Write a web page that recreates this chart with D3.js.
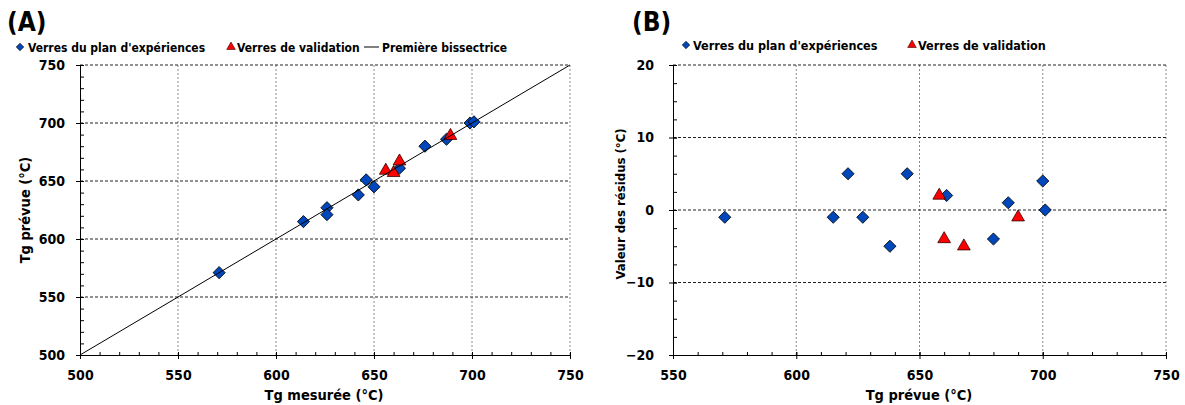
<!DOCTYPE html>
<html>
<head>
<meta charset="utf-8">
<script src="https://cdn.jsdelivr.net/npm/d3@7"></script>
<style>
body { margin: 0; background: #fff; }
text { font-family: "DejaVu Sans Condensed", "DejaVu Sans", sans-serif; font-weight: bold; fill: #000; }
</style>
</head>
<body>
<script>
// panel A : Tg mesurée vs Tg prévue
blueMeasured  = [571, 614, 626, 626, 642, 646, 650, 663, 676, 687, 699, 701]
bluePredicted = [571, 615, 627, 621, 638, 651, 645, 661, 680, 686, 700, 701]
redMeasured   = [656, 660, 663, 689]
redPredicted  = [659, 657, 667, 689]
bisector      = [500, 750]

// panel B : résidus vs Tg prévue
bluePredB = [571, 615, 621, 627, 638, 645, 661, 680, 686, 700, 701]
blueResB  = [-1, -1, 5, -1, -5, 5, 2, -4, 1, 4, 0]
redPredB  = [658, 660, 668, 690]
redResB   = [2, -4, -5, -1]

ticksA   = [500, 550, 600, 650, 700, 750]
ticksBx  = [550, 600, 650, 700, 750]
ticksBy  = [-20, -10, 0, 10, 20]

seriesNames = ["Verres du plan d'expériences", "Verres de validation", "Première bissectrice"]

blue = "#0047bb"
red = "#ff0000"

svg = d3.select("body").append("svg").attr("width", 1185).attr("height", 405)

diamond = d3.symbol().type(d3.symbolSquare).size(74)
diamondSmall = d3.symbol().type(d3.symbolSquare).size(28)
triangle = d3.symbol().type(d3.symbolTriangle).size(70)
triangleSmall = d3.symbol().type(d3.symbolTriangle).size(32)

function drawAxes(g, x, y, xt, yt, xMinor, yMinor, yPad){
    // grid
    g.append("g").selectAll("line").data(xt.slice(1)).join("line")
    .attr("x1", d => x(d)).attr("x2", d => x(d))
    .attr("y1", y.range()[0]).attr("y2", y.range()[1])
    .attr("stroke", "#8a8a8a").attr("stroke-dasharray", "2,2")
    g.append("g").selectAll("line").data(yt.slice(1)).join("line")
    .attr("x1", x.range()[0]).attr("x2", x.range()[1])
    .attr("y1", d => y(d)).attr("y2", d => y(d))
    .attr("stroke", "#222").attr("stroke-dasharray", "3,2")

    // minor ticks (inside)
    g.append("g").attr("transform", "translate(0," + y.range()[0] + ")")
    .call(d3.axisBottom(x).tickValues(xMinor).tickSize(-3).tickSizeOuter(0).tickFormat(""))
    .call(a => a.select(".domain").remove())
    g.append("g").attr("transform", "translate(" + x.range()[0] + ",0)")
    .call(d3.axisLeft(y).tickValues(yMinor).tickSize(-4).tickSizeOuter(0).tickFormat(""))
    .call(a => a.select(".domain").remove())

    // major ticks crossing the axis
    xa = g.append("g").attr("transform", "translate(0," + y.range()[0] + ")")
    .call(d3.axisBottom(x).tickValues(xt).tickSize(4).tickSizeOuter(0).tickFormat(d3.format("d")))
    xa.selectAll(".tick line").attr("y1", -3)
    xa.selectAll(".tick text").attr("y", 25).attr("dy", 0).style("font-size", "14px")
    ya = g.append("g").attr("transform", "translate(" + x.range()[0] + ",0)")
    .call(d3.axisLeft(y).tickValues(yt).tickSize(4).tickSizeOuter(0).tickFormat(d3.format("d")))
    ya.selectAll(".tick line").attr("x1", 4)
    ya.selectAll(".tick text").attr("x", -yPad).style("font-size", "14px")
    g.selectAll(".domain").attr("stroke", "#000")
    g.selectAll(".tick line").attr("stroke", "#000")
    g.selectAll("text").attr("font-family", null)
}

function minorTicks(lo, hi, step){
    out = []
    for (let v = lo; v <= hi + 1e-9; v += step) out.push(v)
    return out
}

// ---------- panel A ----------
xA = d3.scaleLinear().domain([500, 750]).range([80, 570])
yA = d3.scaleLinear().domain([500, 750]).range([355, 65])
gA = svg.append("g")
drawAxes(gA, xA, yA, ticksA, ticksA, minorTicks(500, 750, 10), minorTicks(500, 750, 10), 15)

gA.append("g").selectAll("path").data(d3.zip(blueMeasured, bluePredicted)).join("path")
.attr("d", diamond)
.attr("transform", d => "translate(" + xA(d[0]) + "," + yA(d[1]) + ") rotate(45)")
.attr("fill", blue).attr("stroke", "#000").attr("stroke-width", 0.8)

gA.append("g").selectAll("path").data(d3.zip(redMeasured, redPredicted)).join("path")
.attr("d", triangle)
.attr("transform", d => "translate(" + xA(d[0]) + "," + yA(d[1]) + ")")
.attr("fill", red).attr("stroke", "#300").attr("stroke-width", 0.8)

gA.append("line")
.attr("x1", xA(bisector[0])).attr("y1", yA(bisector[0]))
.attr("x2", xA(bisector[1])).attr("y2", yA(bisector[1]))
.attr("stroke", "#000").attr("stroke-width", 1)

gA.append("text").attr("x", 324).attr("y", 400).attr("text-anchor", "middle").style("font-size", "14.5px").text("Tg mesurée (°C)")
gA.append("text").attr("transform", "translate(30,210) rotate(-90)").attr("text-anchor", "middle").style("font-size", "14.5px").text("Tg prévue (°C)")
gA.append("text").attr("x", 7).attr("y", 31).style("font-size", "26px").text("(A)")

// legend A
gA.append("path").attr("d", diamondSmall).attr("transform", "translate(20,47) rotate(45)").attr("fill", blue).attr("stroke", "#000").attr("stroke-width", 0.6)
gA.append("text").attr("x", 28).attr("y", 51.5).style("font-size", "12px").text(seriesNames[0])
gA.append("path").attr("d", triangleSmall).attr("transform", "translate(231,47)").attr("fill", red).attr("stroke", "#300").attr("stroke-width", 0.6)
gA.append("text").attr("x", 237).attr("y", 51.5).style("font-size", "12px").text(seriesNames[1])
gA.append("line").attr("x1", 364).attr("x2", 379).attr("y1", 47).attr("y2", 47).attr("stroke", "#000")
gA.append("text").attr("x", 382).attr("y", 51.5).style("font-size", "12px").text(seriesNames[2])

// ---------- panel B ----------
xB = d3.scaleLinear().domain([550, 750]).range([673, 1166])
yB = d3.scaleLinear().domain([-20, 20]).range([355, 65])
gB = svg.append("g")
drawAxes(gB, xB, yB, ticksBx, ticksBy, minorTicks(550, 750, 10), minorTicks(-20, 20, 2.5), 19)

gB.append("g").selectAll("path").data(d3.zip(bluePredB, blueResB)).join("path")
.attr("d", diamond)
.attr("transform", d => "translate(" + xB(d[0]) + "," + yB(d[1]) + ") rotate(45)")
.attr("fill", blue).attr("stroke", "#000").attr("stroke-width", 0.8)

gB.append("g").selectAll("path").data(d3.zip(redPredB, redResB)).join("path")
.attr("d", triangle)
.attr("transform", d => "translate(" + xB(d[0]) + "," + yB(d[1]) + ")")
.attr("fill", red).attr("stroke", "#300").attr("stroke-width", 0.8)

gB.append("text").attr("x", 919).attr("y", 400).attr("text-anchor", "middle").style("font-size", "14.5px").text("Tg prévue (°C)")
gB.append("text").attr("transform", "translate(625,204) rotate(-90)").attr("text-anchor", "middle").style("font-size", "13px").text("Valeur des résidus (°C)")
gB.append("text").attr("x", 632).attr("y", 31).style("font-size", "26px").text("(B)")

// legend B
gB.append("path").attr("d", diamondSmall).attr("transform", "translate(686,45) rotate(45)").attr("fill", blue).attr("stroke", "#000").attr("stroke-width", 0.6)
gB.append("text").attr("x", 693).attr("y", 49.5).style("font-size", "12.5px").text(seriesNames[0])
gB.append("path").attr("d", triangleSmall).attr("transform", "translate(912,45)").attr("fill", red).attr("stroke", "#300").attr("stroke-width", 0.6)
gB.append("text").attr("x", 918).attr("y", 49.5).style("font-size", "12.5px").text(seriesNames[1])
</script>
</body>
</html>
